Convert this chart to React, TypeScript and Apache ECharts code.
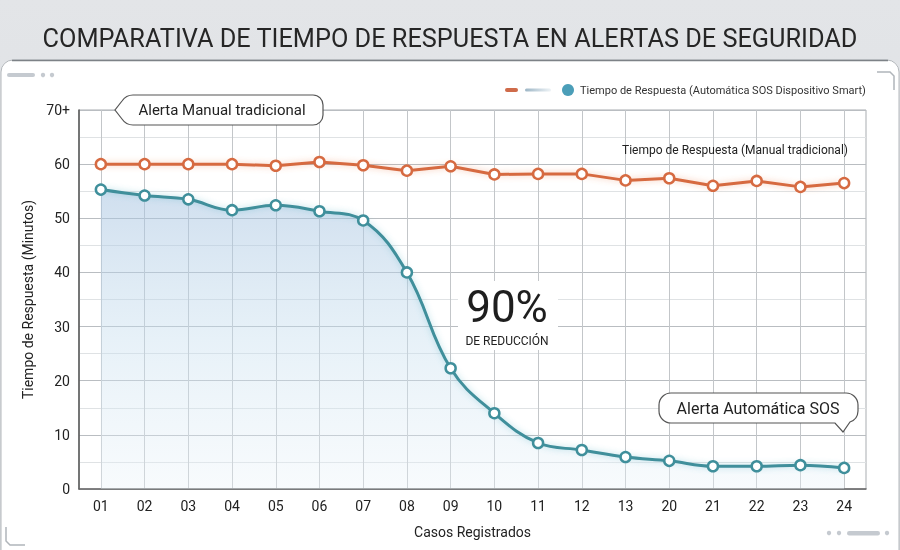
import React, { useEffect, useRef } from "react";
import * as echarts from "echarts";

const categories = ["01", "02", "03", "04", "05", "06", "07", "08", "09", "10", "11", "12", "13", "20", "21", "22", "23", "24"];
const manualValues = [60, 60, 60, 60, 59.7, 60.4, 59.8, 58.8, 59.6, 58.1, 58.2, 58.2, 57.0, 57.4, 56.0, 56.9, 55.8, 56.5];
const sosValues = [55.3, 54.2, 53.5, 51.5, 52.4, 51.3, 49.6, 40.0, 22.3, 14.0, 8.5, 7.2, 5.9, 5.2, 4.2, 4.2, 4.4, 3.9];
const yTicks = [0, 10, 20, 30, 40, 50, 60, 70];
const yTickLabels = ["0", "10", "20", "30", "40", "50", "60", "70+"];

const titleText = "COMPARATIVA DE TIEMPO DE RESPUESTA EN ALERTAS DE SEGURIDAD";
const legendText = "Tiempo de Respuesta (Automática SOS Dispositivo Smart)";
const manualLabel = "Tiempo de Respuesta (Manual tradicional)";
const calloutManual = "Alerta Manual tradicional";
const calloutSos = "Alerta Automática SOS";
const bigPercent = "90%";
const bigPercentSub = "DE REDUCCIÓN";

const FONT = "Roboto, 'Noto Sans', sans-serif";

const bubbleManualD =
  "M133 95 H313 A10 10 0 0 1 323 105 V115 A10 10 0 0 1 313 125 H133 Q126 125 122 119 L115 110 L122 101 Q126 95 133 95 Z";
const bubbleSosD =
  "M671 393 H846 A12 12 0 0 1 858 405 V411 A12 12 0 0 1 850 422 L843 432 L835 423 H671 A12 12 0 0 1 659 411 V405 A12 12 0 0 1 671 393 Z";

let registered = false;
function registerShapes() {
  if (registered) return;
  registered = true;
  echarts.graphic.registerShape("bubbleManual", echarts.graphic.extendPath(bubbleManualD, {}));
  echarts.graphic.registerShape("bubbleSos", echarts.graphic.extendPath(bubbleSosD, {}));
}

export default function App() {
  const ref = useRef<HTMLDivElement>(null);

  useEffect(() => {
    if (!ref.current) return;
    registerShapes();
    const chart = echarts.init(ref.current, undefined, { renderer: "svg" });

    const decoColor = "#c5cad0";

    const option: any = {
      animation: false,
      backgroundColor: "transparent",
      title: {
        text: titleText,
        left: "center",
        top: 21,
        textStyle: { fontFamily: FONT, fontSize: 25.3, fontWeight: "normal", color: "#262626" },
      },
      grid: {
        left: 79,
        right: 34,
        top: 110,
        bottom: 61,
        show: true,
        borderColor: "#a9adb1",
        borderWidth: 1,
        backgroundColor: "transparent",
      },
      xAxis: {
        type: "category",
        data: categories,
        boundaryGap: true,
        name: "Casos Registrados",
        nameLocation: "middle",
        nameGap: 36,
        nameTextStyle: { fontFamily: FONT, fontSize: 14, color: "#222" },
        axisLine: { show: true, lineStyle: { color: "#666", width: 1.5 } },
        axisTick: { show: false },
        axisLabel: { fontFamily: FONT, fontSize: 14, color: "#222", margin: 10 },
        splitLine: { show: true, alignWithLabel: true, lineStyle: { color: "#c3c6c9", width: 1 } },
      },
      yAxis: {
        type: "value",
        min: 0,
        max: 70,
        interval: 10,
        name: "Tiempo de Respuesta (Minutos)",
        nameLocation: "middle",
        nameGap: 44,
        nameTextStyle: { fontFamily: FONT, fontSize: 14, color: "#222" },
        axisLine: { show: true, lineStyle: { color: "#555", width: 1.5 } },
        axisTick: { show: false },
        axisLabel: {
          fontFamily: FONT,
          fontSize: 14,
          color: "#222",
          margin: 9,
          formatter: (v: number) => {
            const i = yTicks.indexOf(v);
            return i >= 0 ? yTickLabels[i] : String(v);
          },
        },
        splitLine: { show: true, lineStyle: { color: "#b9bdc1", width: 1 } },
        minorTick: { show: false, splitNumber: 2 },
        minorSplitLine: { show: true, lineStyle: { color: "#dfe2e4", width: 1 } },
      },
      series: [
        {
          name: "Manual",
          type: "line",
          data: manualValues,
          z: 4,
          symbol: "circle",
          symbolSize: 10,
          lineStyle: {
            color: "#d66a41",
            width: 3,
            shadowColor: "rgba(236,130,80,0.45)",
            shadowBlur: 6,
          },
          itemStyle: { color: "#fff", borderColor: "#d66a41", borderWidth: 2.5 },
        },
        {
          name: "SOS",
          type: "line",
          data: sosValues,
          z: 3,
          smooth: 0.4,
          symbol: "circle",
          symbolSize: 10,
          lineStyle: {
            color: "#3f8f9b",
            width: 3,
            shadowColor: "rgba(90,180,200,0.45)",
            shadowBlur: 6,
          },
          itemStyle: { color: "#fff", borderColor: "#3f8f9b", borderWidth: 2.5 },
          areaStyle: {
            color: new echarts.graphic.LinearGradient(0, 0, 0, 1, [
              { offset: 0, color: "rgba(165,194,224,0.75)" },
              { offset: 0.5, color: "rgba(198,222,238,0.6)" },
              { offset: 1, color: "rgba(234,243,249,0.5)" },
            ]),
          },
        },
      ],
      graphic: [
        {
          type: "rect",
          z: -100,
          silent: true,
          shape: { x: 0, y: 0, width: 900, height: 550 },
          style: {
            fill: new echarts.graphic.LinearGradient(0, 0, 0, 1, [
              { offset: 0, color: "#e3e5e8" },
              { offset: 1, color: "#d8dbde" },
            ]),
          },
        },
        {
          type: "rect",
          z: -99,
          silent: true,
          shape: { x: 1, y: 60, width: 898, height: 510, r: 12 },
          style: { fill: "#ffffff", stroke: "#b4b8bc", lineWidth: 1 },
        },
        {
          type: "line",
          z: -98,
          silent: true,
          shape: { x1: 12, y1: 60.5, x2: 888, y2: 60.5 },
          style: { stroke: "#7d8287", lineWidth: 1.5 },
        },
        { type: "rect", z: -90, shape: { x: 7, y: 73, width: 28, height: 4, r: 2 }, style: { fill: decoColor } },
        { type: "circle", z: -90, shape: { cx: 43, cy: 75, r: 2.2 }, style: { fill: decoColor } },
        { type: "circle", z: -90, shape: { cx: 52, cy: 75, r: 2.2 }, style: { fill: decoColor } },
        {
          type: "polyline",
          z: -90,
          shape: { points: [[877, 72], [890, 72], [894, 76], [894, 90]] },
          style: { stroke: "#b0b5ba", lineWidth: 1.5, fill: null },
        },
        {
          type: "polyline",
          z: -90,
          shape: { points: [[6, 527], [6, 541], [10, 545], [25, 545]] },
          style: { stroke: "#b0b5ba", lineWidth: 1.5, fill: null },
        },
        { type: "circle", z: -90, shape: { cx: 829, cy: 533, r: 2.2 }, style: { fill: decoColor } },
        { type: "circle", z: -90, shape: { cx: 839, cy: 533, r: 2.2 }, style: { fill: decoColor } },
        { type: "rect", z: -90, shape: { x: 847, y: 531, width: 33, height: 4.5, r: 2.2 }, style: { fill: decoColor } },
        { type: "circle", z: -90, shape: { cx: 887, cy: 533, r: 2.2 }, style: { fill: decoColor } },
        { type: "rect", z: 50, shape: { x: 505, y: 88, width: 13, height: 4, r: 2 }, style: { fill: "#cf6b4a" } },
        {
          type: "rect",
          z: 50,
          shape: { x: 525, y: 88.5, width: 26, height: 3, r: 1.5 },
          style: {
            fill: new echarts.graphic.LinearGradient(0, 0, 1, 0, [
              { offset: 0, color: "#9db6c6" },
              { offset: 1, color: "#eef3f6" },
            ]),
          },
        },
        { type: "circle", z: 50, shape: { cx: 568, cy: 90, r: 6 }, style: { fill: "#4b9eb8" } },
        {
          type: "text",
          z: 50,
          x: 580,
          y: 90,
          style: { text: legendText, fontFamily: FONT, fontSize: 11, fill: "#333", verticalAlign: "middle", align: "left" },
        },
        {
          type: "text",
          z: 50,
          x: 848,
          y: 150,
          style: { text: manualLabel, fontFamily: FONT, fontSize: 12, fill: "#222", verticalAlign: "middle", align: "right" },
        },
        { type: "bubbleManual", z: 60, x: 0, y: 0, style: { fill: "#fff", stroke: "#555", lineWidth: 1.2 } },
        {
          type: "text",
          z: 61,
          x: 222,
          y: 110,
          style: { text: calloutManual, fontFamily: FONT, fontSize: 15, fill: "#222", align: "center", verticalAlign: "middle" },
        },
        { type: "bubbleSos", z: 60, x: 0, y: 0, style: { fill: "#fff", stroke: "#555", lineWidth: 1.2 } },
        {
          type: "text",
          z: 61,
          x: 758,
          y: 408,
          style: { text: calloutSos, fontFamily: FONT, fontSize: 16, fill: "#222", align: "center", verticalAlign: "middle" },
        },
        { type: "rect", z: 55, shape: { x: 458, y: 281, width: 100, height: 69 }, style: { fill: "#fff" } },
        {
          type: "text",
          z: 56,
          x: 507,
          y: 307,
          style: {
            text: bigPercent,
            fontFamily: FONT,
            fontSize: 44,
            lineHeight: 44,
            fill: "#1e1e1e",
            align: "center",
            verticalAlign: "middle",
          },
        },
        {
          type: "text",
          z: 56,
          x: 507,
          y: 341,
          style: {
            text: bigPercentSub,
            fontFamily: FONT,
            fontSize: 12,
            lineHeight: 12,
            fill: "#222",
            align: "center",
            verticalAlign: "middle",
          },
        },
      ],
    };

    chart.setOption(option);
    return () => {
      chart.dispose();
    };
  }, []);

  return <div ref={ref} style={{ position: "fixed", left: 0, top: 0, width: 900, height: 550 }} />;
}
